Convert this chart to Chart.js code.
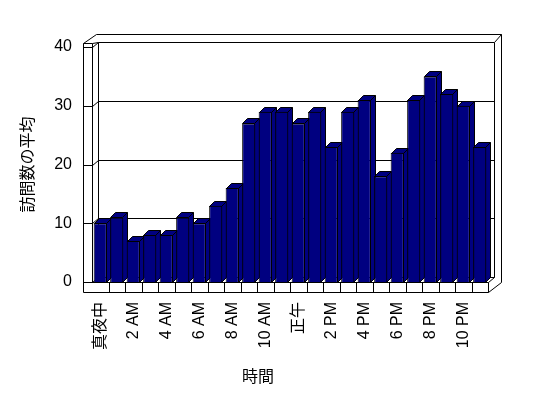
<!DOCTYPE html>
<html lang="ja">
<head>
<meta charset="utf-8">
<script src="https://cdn.jsdelivr.net/npm/chart.js@4/dist/chart.umd.min.js"></script>
<style>
  html, body { margin: 0; padding: 0; background: #fff; }
  canvas { display: block; }
</style>
</head>
<body>
<canvas id="chart-visits" width="548" height="398"></canvas>
<script>
// ===== 時間帯別の訪問数 =====
const hours = ['真夜中', '1 AM', '2 AM', '3 AM', '4 AM', '5 AM', '6 AM', '7 AM', '8 AM', '9 AM', '10 AM', '11 AM',
    '正午', '1 PM', '2 PM', '3 PM', '4 PM', '5 PM', '6 PM', '7 PM', '8 PM', '9 PM', '10 PM', '11 PM'];
const avgVisits = [10, 11, 7, 8, 8, 11, 10, 13, 16, 27, 29, 29, 27, 29, 23, 29, 31, 18, 22, 31, 35, 32, 30, 23];
const yTicks = [0, 10, 20, 30, 40];
const xTitle = '時間';
const yTitle = '訪問数の平均';

const BAR_COLOR = '#000080';
const FONT_LATIN = '"Liberation Sans", "Noto Sans CJK JP", sans-serif';
const FONT_CJK = '"Noto Sans CJK JP", sans-serif';

// depth of the 3D box (walls, floor, bars)
const WALL_DX = 6, WALL_DY = 5, WALL_T = 9, FLOOR_T = 10;
const BAR_DX = 5, BAR_DY = 5;

const p = v => Math.round(v) + 0.5;

// draws the back wall, left wall, floor and the top/side faces of the bars
const box3d = {
    id: 'box3d',
    beforeDatasetsDraw(chart) {
        const { ctx, chartArea: a, scales: { y } } = chart;
        const L = a.left, R = a.right;
        const T = y.getPixelForValue(yTicks[yTicks.length - 1]);
        const B = y.getPixelForValue(0);
        const w = (R - L) / hours.length;
        const line = pts => {
            ctx.beginPath();
            pts.forEach(([px, py], i) => i ? ctx.lineTo(p(px), p(py)) : ctx.moveTo(p(px), p(py)));
            ctx.stroke();
        };
        ctx.save();
        ctx.strokeStyle = '#000';
        ctx.lineWidth = 1;

        // back wall gridlines
        yTicks.forEach(v => {
            const py = y.getPixelForValue(v) - WALL_DY;
            line([[L + WALL_DX, py], [R + WALL_DX, py]]);
        });
        line([[L + WALL_DX, T - WALL_DY], [L + WALL_DX, B - WALL_DY]]);
        line([[R + WALL_DX, T - WALL_DY], [R + WALL_DX, B - WALL_DY]]);

        // outer edge of the walls
        const OX = R + 13, OY = T - 13;
        line([[L - WALL_T, T - 4], [L + 4, OY], [OX, OY], [OX, B]]);
        line([[R + WALL_DX, T - WALL_DY], [OX, OY]]);

        // left wall
        line([[L - WALL_T, T - 4], [L - WALL_T, B + FLOOR_T]]);
        line([[L, T - 4], [L, B]]);
        line([[L - WALL_T, T - 4], [L, T - 4], [L + WALL_DX, T - WALL_DY]]);
        yTicks.forEach(v => {
            const py = y.getPixelForValue(v);
            line([[L - WALL_T, py], [L, py], [L + WALL_DX, py - WALL_DY]]);
        });

        // floor
        line([[L - WALL_T, B], [R, B], [R, B + FLOOR_T], [L - WALL_T, B + FLOOR_T]]);
        for (let i = 1; i < hours.length; i++) line([[L + i * w, B], [L + i * w, B + FLOOR_T]]);
        line([[R, B + FLOOR_T], [OX, B]]);
        line([[R, B], [R + WALL_DX, B - WALL_DY]]);

        // bar tops and sides
        chart.getDatasetMeta(0).data.forEach(bar => {
            const { x: cx, y: top, base, width } = bar.getProps(['x', 'y', 'base', 'width'], true);
            const x0 = p(cx - width / 2), x1 = p(cx + width / 2) - 1, t = p(top), b = p(base);
            ctx.fillStyle = BAR_COLOR;
            ctx.beginPath();
            ctx.moveTo(x0, t);
            ctx.lineTo(x0 + BAR_DX, t - BAR_DY);
            ctx.lineTo(x1 + BAR_DX, t - BAR_DY);
            ctx.lineTo(x1 + BAR_DX, b - BAR_DY);
            ctx.lineTo(x1, b);
            ctx.lineTo(x1, t);
            ctx.closePath();
            ctx.fill();
            ctx.stroke();
            ctx.beginPath();
            ctx.moveTo(x1, t);
            ctx.lineTo(x1 + BAR_DX, t - BAR_DY);
            ctx.stroke();
        });
        ctx.restore();
    },
    afterDraw(chart) {
        const { ctx } = chart;
        ctx.save();
        ctx.fillStyle = '#000';
        ctx.font = '16px ' + FONT_CJK;
        ctx.textAlign = 'center';
        ctx.textBaseline = 'middle';
        ctx.fillText(xTitle, 258, 376);
        ctx.restore();
    }
};

new Chart(document.getElementById('chart-visits'), {
    type: 'bar',
    data: {
        labels: hours,
        datasets: [{
            label: yTitle,
            data: avgVisits,
            backgroundColor: BAR_COLOR,
            borderColor: '#000',
            borderWidth: 1,
            barPercentage: 0.8,
            categoryPercentage: 1,
        }]
    },
    options: {
        responsive: false,
        animation: false,
        layout: { padding: { top: 47, right: 60, left: 0, bottom: 0 } },
        plugins: {
            legend: { display: false },
            tooltip: { enabled: false },
        },
        scales: {
            x: {
                afterFit: s => { s.height = 116; },
                grid: { display: false, drawTicks: false },
                border: { display: false },
                ticks: {
                    autoSkip: false,
                    minRotation: 90,
                    maxRotation: 90,
                    padding: 20,
                    color: '#000',
                    font: { family: FONT_LATIN, size: 16 },
                    callback: (v, i) => i % 2 ? '' : hours[i],
                },
            },
            y: {
                min: 0,
                max: 40,
                afterFit: s => { s.width = 92; },
                afterBuildTicks: s => { s.ticks = yTicks.map(v => ({ value: v })); },
                grid: { display: false, drawTicks: false },
                border: { display: false },
                ticks: { padding: 20, color: '#000', font: { family: FONT_LATIN, size: 16 } },
                title: {
                    display: true,
                    text: yTitle,
                    color: '#000',
                    font: { family: FONT_CJK, size: 16 },
                    padding: { top: 17, bottom: 0 },
                },
            }
        }
    },
    plugins: [box3d]
});
</script>
</body>
</html>
